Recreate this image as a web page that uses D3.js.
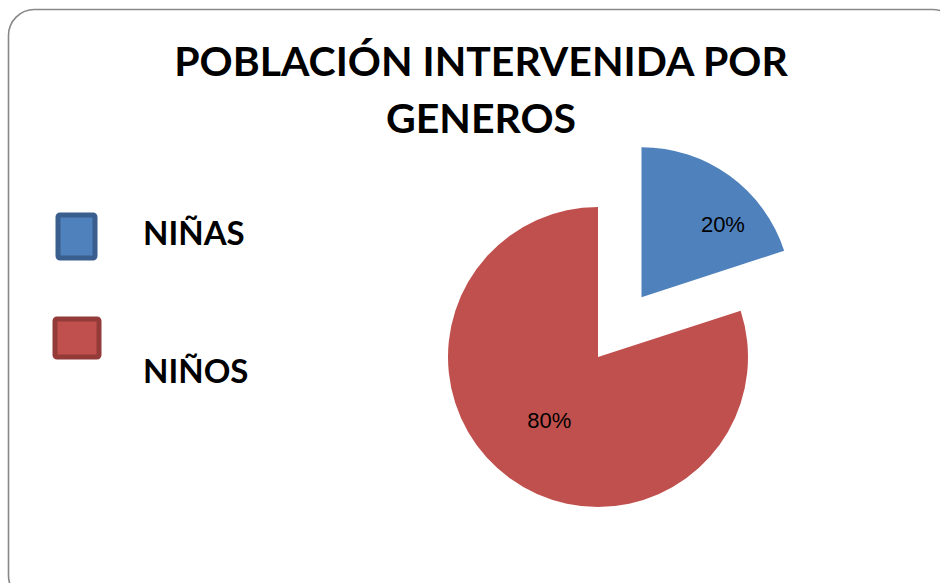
<!DOCTYPE html>
<meta charset="utf-8">
<script src="https://d3js.org/d3.v7.min.js"></script>
<style>
  body { margin: 0; background: #fff; }
</style>
<div id="chart"></div>
<script>
    // data
    var categories = ["NIÑAS", "NIÑOS"]
    var values = [20, 80]
    var labels = ["20%", "80%"]
    var titleLines = ["POBLACIÓN INTERVENIDA POR", "GENEROS"]

    var width = 940, height = 583
    var fills = ["#4f81bd", "#c0504d"]
    var borders = ["#3a5f8e", "#943a38"]

    var svg = d3.select("#chart").append("svg")
        .attr("width", width)
        .attr("height", height)

    // outer frame (runs off the right and bottom)
    svg.append("rect")
        .attr("x", 8.5).attr("y", 9.5)
        .attr("width", 950).attr("height", 592)
        .attr("rx", 26).attr("ry", 26)
        .attr("fill", "#fff")
        .attr("stroke", "#888")
        .attr("stroke-width", 1.6)

    // title
    svg.append("g").selectAll("text")
        .data(titleLines)
        .join("text")
        .attr("x", 481)
        .attr("y", function(d, i){ return 76 + i * 57 })
        .attr("text-anchor", "middle")
        .style("font-family", "Lato, sans-serif")
        .style("font-weight", "bold")
        .style("font-size", "41px")
        .attr("fill", "#000")
        .text(function(d){ return d })

    // legend
    var legendBoxes = [{x: 58, y: 215, w: 37, h: 43}, {x: 55, y: 319, w: 44, h: 38}]
    var legendText = [{x: 143, y: 245}, {x: 143, y: 383}]
    var lg = svg.append("g")
    lg.selectAll("rect")
        .data(categories)
        .join("rect")
        .attr("x", function(d, i){ return legendBoxes[i].x })
        .attr("y", function(d, i){ return legendBoxes[i].y })
        .attr("width", function(d, i){ return legendBoxes[i].w })
        .attr("height", function(d, i){ return legendBoxes[i].h })
        .attr("rx", 2)
        .attr("fill", function(d, i){ return fills[i] })
        .attr("stroke", function(d, i){ return borders[i] })
        .attr("stroke-width", 5)
    lg.selectAll("text")
        .data(categories)
        .join("text")
        .attr("x", function(d, i){ return legendText[i].x })
        .attr("y", function(d, i){ return legendText[i].y })
        .style("font-family", "Lato, sans-serif")
        .style("font-weight", "bold")
        .style("font-size", "33px")
        .text(function(d){ return d })

    // pie
    var cx = 598, cy = 357, radius = 150, explode = 74
    var pie = d3.pie().sort(null).value(function(d){ return d })
    var arcs = pie(values)
    var arc = d3.arc().innerRadius(0).outerRadius(radius)

    var g = svg.append("g").attr("transform", "translate(" + cx + "," + cy + ")")

    function offset(d, i){
        if (i != 0) return [0, 0]
        var a = (d.startAngle + d.endAngle) / 2
        return [Math.sin(a) * explode, -Math.cos(a) * explode]
    }

    var slices = g.selectAll("g.slice")
        .data(arcs)
        .join("g")
        .attr("class", "slice")
        .attr("transform", function(d, i){ var o = offset(d, i); return "translate(" + o[0] + "," + o[1] + ")" })

    slices.append("path")
        .attr("d", arc)
        .attr("fill", function(d, i){ return fills[i] })

    slices.append("text")
        .attr("transform", function(d, i){
            var small = (d.endAngle - d.startAngle) < Math.PI
            var a = (d.startAngle + d.endAngle) / 2 + (small ? 0.21 : 0.03)
            var r = radius * (small ? 0.73 : 0.53)
            return "translate(" + (Math.sin(a) * r) + "," + (-Math.cos(a) * r) + ")"
        })
        .attr("text-anchor", "middle")
        .attr("dy", "0.35em")
        .style("font-family", "Liberation Sans, Arial, sans-serif")
        .style("font-size", "22px")
        .attr("fill", "#000")
        .text(function(d, i){ return labels[i] })
</script>
